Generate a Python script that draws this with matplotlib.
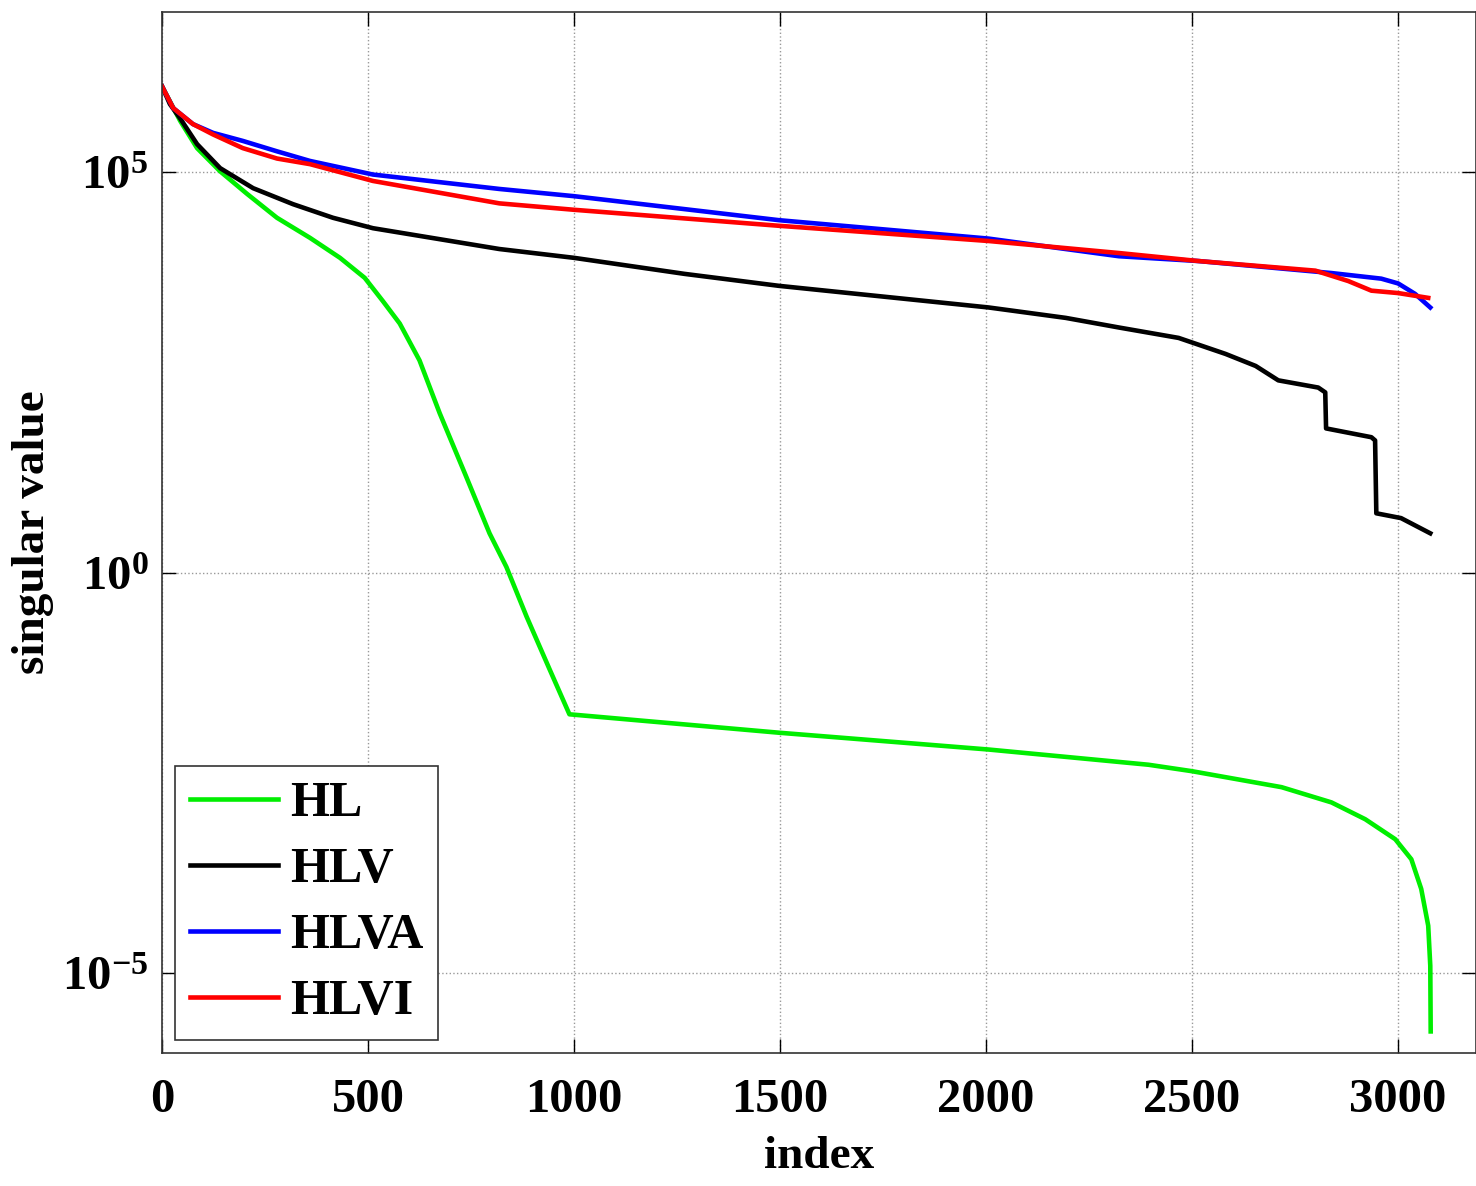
import numpy as np
import matplotlib
matplotlib.use('Agg')
import matplotlib.pyplot as plt

plt.rcParams['font.family'] = 'Liberation Serif'
plt.rcParams['font.weight'] = 'bold'
plt.rcParams['mathtext.fontset'] = 'custom'
plt.rcParams['mathtext.rm'] = 'Liberation Serif:bold'
plt.rcParams['mathtext.it'] = 'Liberation Serif:bold'
plt.rcParams['mathtext.bf'] = 'Liberation Serif:bold'

# points (index, log10 of singular value)
hl_x = [0, 44, 85, 141, 206, 279, 359, 432, 492, 536, 577, 625, 674, 739, 795, 836, 885, 941, 989,
        1498, 2007, 2395, 2500, 2718, 2839, 2921, 2994, 3033, 3057, 3074, 3079, 3080]
hl_y = [6.07, 5.64, 5.30, 5.01, 4.73, 4.43, 4.18, 3.93, 3.68, 3.39, 3.11, 2.65, 1.99, 1.19, 0.49, 0.07, -0.55, -1.21, -1.77,
        -2.00, -2.21, -2.40, -2.48, -2.68, -2.87, -3.08, -3.33, -3.58, -3.95, -4.41, -4.91, -5.73]

hlv_x = [0, 19, 44, 85, 141, 221, 318, 415, 512, 819, 1000, 1268, 1498, 2007, 2194, 2323, 2468, 2582,
         2655, 2710, 2807, 2824, 2826, 2936, 2945, 2948, 3008, 3079]
hlv_y = [6.07, 5.85, 5.67, 5.35, 5.05, 4.80, 4.60, 4.43, 4.30, 4.04, 3.93, 3.73, 3.58, 3.31, 3.18, 3.06, 2.93, 2.73,
         2.58, 2.40, 2.31, 2.25, 1.80, 1.69, 1.65, 0.74, 0.68, 0.49]

hlva_x = [0, 27, 75, 124, 196, 279, 359, 512, 819, 1000, 1498, 2007, 2323, 2516, 2839, 2960, 3001, 3042, 3079]
hlva_y = [6.07, 5.80, 5.60, 5.49, 5.39, 5.26, 5.14, 4.97, 4.79, 4.70, 4.40, 4.17, 3.95, 3.89, 3.74, 3.67, 3.61, 3.48, 3.31]

hlvi_x = [0, 27, 75, 124, 196, 279, 359, 512, 819, 1000, 1498, 2007, 2323, 2516, 2800, 2880, 2936, 3001, 3074]
hlvi_y = [6.07, 5.80, 5.60, 5.47, 5.30, 5.17, 5.10, 4.89, 4.61, 4.53, 4.33, 4.14, 3.99, 3.89, 3.77, 3.64, 3.52, 3.49, 3.43]

series = [('HL', hl_x, hl_y, '#00ee00'),
          ('HLV', hlv_x, hlv_y, 'black'),
          ('HLVA', hlva_x, hlva_y, '#0000ff'),
          ('HLVI', hlvi_x, hlvi_y, '#ff0000')]

fig = plt.figure(figsize=(14.76, 11.86), dpi=100)
ax = fig.add_axes([0.1098, 0.1121, 0.8902, 0.8778])

for name, xs, ys, col in series:
    ax.semilogy(xs, 10.0 ** np.array(ys), color=col, lw=3.3, label=name)

ax.set_xlim(0, 3190)
ax.set_ylim(1e-6, 1e7)
ax.set_xticks([0, 500, 1000, 1500, 2000, 2500, 3000])
ax.set_xticklabels(['0', '500', '1000', '1500', '2000', '2500', '3000'])
ax.set_yticks([1e-5, 1e0, 1e5])
ax.set_yticklabels([r'$10^{-5}$', r'$10^{0}$', r'$10^{5}$'])
ax.yaxis.set_minor_locator(matplotlib.ticker.NullLocator())
ax.tick_params(axis='both', which='major', direction='in', top=True, right=True,
               labelsize=35, length=10, width=1)
ax.tick_params(axis='x', pad=18)
ax.tick_params(axis='y', pad=10)
ax.grid(True, linestyle=':', color='#999999', lw=1)
for s in ax.spines.values():
    s.set_linewidth(1.2)
    s.set_color('#333333')

ax.set_xlabel('index', fontsize=34, fontweight='bold', labelpad=10)
ax.set_ylabel('singular value', fontsize=34, fontweight='bold', labelpad=6)

leg = ax.legend(loc='lower left', fontsize=36, frameon=True, fancybox=False,
                handlelength=1.76, handletextpad=0.24, borderpad=0.3, labelspacing=0.4,
                borderaxespad=0.26, edgecolor='#333333')
leg.get_frame().set_linewidth(1.2)
leg.get_frame().set_alpha(1)

fig.savefig('out.png', dpi=100)
